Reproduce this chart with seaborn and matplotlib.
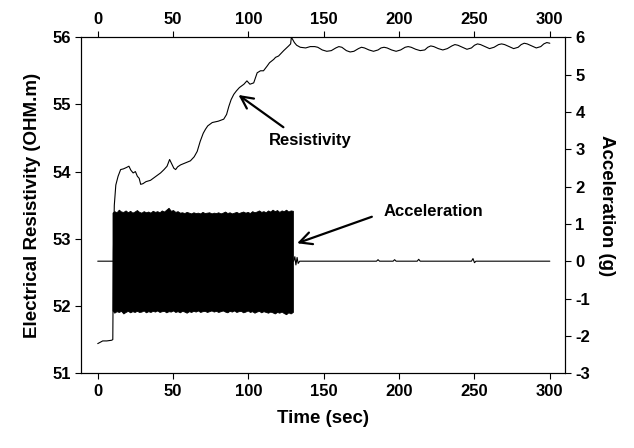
import numpy as np
import pandas as pd
import matplotlib
matplotlib.use("Agg")
import matplotlib.pyplot as plt
import seaborn as sns

# resistivity trace (time in sec, OHM.m)
res_time = [0, 3.3, 6, 9.2, 10.0, 10.4, 11.0, 12.0, 13.5, 15.2, 17, 19, 20.7, 22, 23.5, 25,
            26.3, 27.5, 28.5, 30, 32, 35, 38, 41.7, 44, 46, 47.7, 49, 50.5, 51.7, 53, 55,
            58.3, 61.5, 64, 66, 68, 70, 71.5, 73, 76, 80, 83.6, 85.5, 87, 88.5, 90.3, 92,
            94, 97, 99, 101, 103.5, 105.8, 108, 110, 112.4, 114, 116.8, 118, 120, 123.4,
            126.7, 128, 128.5, 129.5, 130.5, 132, 134.4, 138, 141, 144,
            146, 149, 152, 155, 158, 160, 162, 165, 167.5, 170, 173, 175, 177, 180, 183,
            186, 188, 190, 192, 195, 198, 201, 204, 206, 208, 211, 214, 217, 219, 221,
            223, 226, 229, 232, 235, 237, 239, 242, 245, 248, 250, 252, 254, 257, 260,
            263, 266, 268, 270, 273, 276, 279, 281, 283, 285, 288, 291, 294, 296, 298, 300]
res_value = [51.44, 51.48, 51.48, 51.49, 51.50, 52.8, 53.5, 53.8, 53.93, 54.03, 54.04, 54.06,
             54.08, 54.02, 53.98, 54.00, 53.93, 53.90, 53.81, 53.82, 53.85, 53.87, 53.92,
             53.98, 54.03, 54.08, 54.18, 54.12, 54.05, 54.03, 54.07, 54.10, 54.13, 54.16,
             54.22, 54.30, 54.45, 54.57, 54.63, 54.68, 54.73, 54.75, 54.78, 54.85, 54.97,
             55.07, 55.15, 55.20, 55.25, 55.30, 55.35, 55.30, 55.32, 55.47, 55.50, 55.50,
             55.57, 55.62, 55.67, 55.70, 55.72, 55.80, 55.87, 55.90, 56.00, 55.96, 55.92,
             55.88, 55.85, 55.84, 55.86, 55.86,
             55.85, 55.81, 55.79, 55.80, 55.84, 55.86, 55.85, 55.80, 55.78, 55.79, 55.83,
             55.85, 55.84, 55.81, 55.79, 55.81, 55.84, 55.85, 55.84, 55.81, 55.79, 55.81,
             55.85, 55.86, 55.85, 55.82, 55.80, 55.81, 55.85, 55.87, 55.86, 55.83, 55.81,
             55.83, 55.87, 55.89, 55.88, 55.85, 55.82, 55.84, 55.88, 55.90, 55.89, 55.86,
             55.83, 55.85, 55.89, 55.90, 55.89, 55.86, 55.83, 55.85, 55.89, 55.91, 55.90,
             55.87, 55.84, 55.86, 55.90, 55.92, 55.91]

# acceleration outside the shaking window (g)
acc_time = [0, 9.8, 130, 130.8, 131.5, 132.3, 133, 134, 150, 185, 186, 187, 196, 197,
            198, 212, 213, 214, 248, 249, 250, 251, 290, 300]
acc_value = [0.0, 0.0, 0.0, 0.12, -0.10, 0.10, -0.06, 0.0, 0.0, 0.0, 0.04, 0.0, 0.0,
             0.04, 0.0, 0.0, 0.05, 0.0, 0.0, 0.07, -0.04, 0.0, 0.0, 0.0]

# envelope of the shaking window (g)
band_time = [9.8, 11, 12.5, 14, 15.5, 17, 18.5, 20, 21.5, 23, 24.5, 26, 27.5, 29, 30.5,
             32, 33.5, 35, 36.5, 38, 39.5, 41, 42.5, 44, 45.5, 47, 48.5, 50, 51.5, 53,
             54.5, 56, 57.5, 59, 60.5, 62, 63.5, 65, 66.5, 68, 69.5, 71, 72.5, 74, 75.5,
             77, 78.5, 80, 81.5, 83, 84.5, 86, 87.5, 89, 90.5, 92, 93.5, 95, 96.5, 98,
             99.5, 101, 102.5, 104, 105.5, 107, 108.5, 110, 111.5, 113, 114.5, 116,
             117.5, 119, 120.5, 122, 123.5, 125, 126.5, 128, 129.5]
band_upper = [1.30, 1.34, 1.31, 1.38, 1.33, 1.32, 1.36, 1.31, 1.35, 1.30, 1.33, 1.37,
              1.32, 1.30, 1.34, 1.31, 1.33, 1.30, 1.35, 1.32, 1.34, 1.31, 1.36, 1.33,
              1.38, 1.43, 1.35, 1.37, 1.32, 1.34, 1.30, 1.31, 1.29, 1.32, 1.30, 1.28,
              1.31, 1.29, 1.30, 1.28, 1.32, 1.29, 1.30, 1.31, 1.28, 1.30, 1.29, 1.31,
              1.28, 1.30, 1.33, 1.29, 1.31, 1.28, 1.30, 1.32, 1.29, 1.31, 1.33, 1.30,
              1.32, 1.29, 1.34, 1.31, 1.33, 1.36, 1.32, 1.34, 1.31, 1.36, 1.33, 1.38,
              1.34, 1.37, 1.32, 1.36, 1.34, 1.38, 1.33, 1.36, 1.35]
band_lower = [-1.32, -1.38, -1.34, -1.36, -1.33, -1.40, -1.36, -1.33, -1.37, -1.34,
              -1.36, -1.33, -1.36, -1.35, -1.32, -1.37, -1.34, -1.36, -1.33, -1.35,
              -1.32, -1.36, -1.34, -1.33, -1.37, -1.34, -1.35, -1.32, -1.36, -1.34,
              -1.37, -1.33, -1.35, -1.38, -1.34, -1.36, -1.33, -1.35, -1.32, -1.36,
              -1.34, -1.33, -1.36, -1.34, -1.32, -1.35, -1.33, -1.36, -1.34, -1.32,
              -1.35, -1.37, -1.33, -1.35, -1.32, -1.36, -1.34, -1.33, -1.37, -1.35,
              -1.32, -1.36, -1.34, -1.38, -1.35, -1.33, -1.37, -1.34, -1.36, -1.38,
              -1.35, -1.37, -1.40, -1.36, -1.38, -1.35, -1.39, -1.42, -1.37, -1.40, -1.36]

sns.set_style("ticks")
plt.rcParams["font.family"] = ["Liberation Sans", "DejaVu Sans"]
plt.rcParams["font.weight"] = "bold"
plt.rcParams["axes.unicode_minus"] = False
for k in ("text.color", "axes.labelcolor", "xtick.color", "ytick.color",
          "axes.edgecolor"):
    plt.rcParams[k] = "black"

fig = plt.figure(figsize=(6.34, 4.48), dpi=100)
ax = fig.add_axes([0.128, 0.167, 0.763, 0.750])
ax2 = ax.twinx()

df_res = pd.DataFrame({"time": res_time, "res": res_value})
sns.lineplot(data=df_res, x="time", y="res", ax=ax, color="black", linewidth=0.8)

df_acc = pd.DataFrame({"time": acc_time, "acc": acc_value})
sns.lineplot(data=df_acc, x="time", y="acc", ax=ax2, color="black", linewidth=0.8)
ax2.fill_between(band_time, band_lower, band_upper, color="black", linewidth=0.6)

ax.set_xlim(-11, 310)
ax.set_ylim(51, 56)
ax2.set_ylim(-3, 6)
ax.set_xticks(np.arange(0, 301, 50))
ax.set_yticks(np.arange(51, 57, 1))
ax2.set_yticks(np.arange(-3, 7, 1))

ax.tick_params(axis="x", top=True, labeltop=True, direction="out", length=4,
               labelsize=12, width=0.8, colors="black")
ax.tick_params(axis="y", direction="out", length=4, labelsize=12, width=0.8,
               colors="black")
ax2.tick_params(axis="y", direction="out", length=4, labelsize=12, width=0.8,
                colors="black")
for a in (ax, ax2):
    for s in a.spines.values():
        s.set_linewidth(0.8)
        s.set_color("black")
        s.set_visible(True)
for lab in ax.get_xticklabels() + ax.get_yticklabels() + ax2.get_yticklabels():
    lab.set_fontweight("bold")

ax.set_xlabel("Time (sec)", fontsize=13.5, fontweight="bold", labelpad=8)
ax.set_ylabel("Electrical Resistivity (OHM.m)", fontsize=13.5, fontweight="bold",
              labelpad=8)
ax2.set_ylabel("Acceleration (g)", fontsize=13.5, fontweight="bold", rotation=270,
               labelpad=18)

arrow = dict(arrowstyle="->", color="black", lw=1.6, mutation_scale=22,
             shrinkA=0, shrinkB=0)
ax.annotate("", xy=(93.4, 55.14), xytext=(123.2, 54.66), arrowprops=arrow)
ax.text(141, 54.47, "Resistivity", ha="center", va="center", fontsize=12,
        fontweight="bold")
ax2.annotate("", xy=(132.3, 0.48), xytext=(181.9, 1.19), arrowprops=arrow)
ax2.text(222.5, 1.34, "Acceleration", ha="center", va="center", fontsize=12,
         fontweight="bold")

fig.savefig("out.png", dpi=100)
